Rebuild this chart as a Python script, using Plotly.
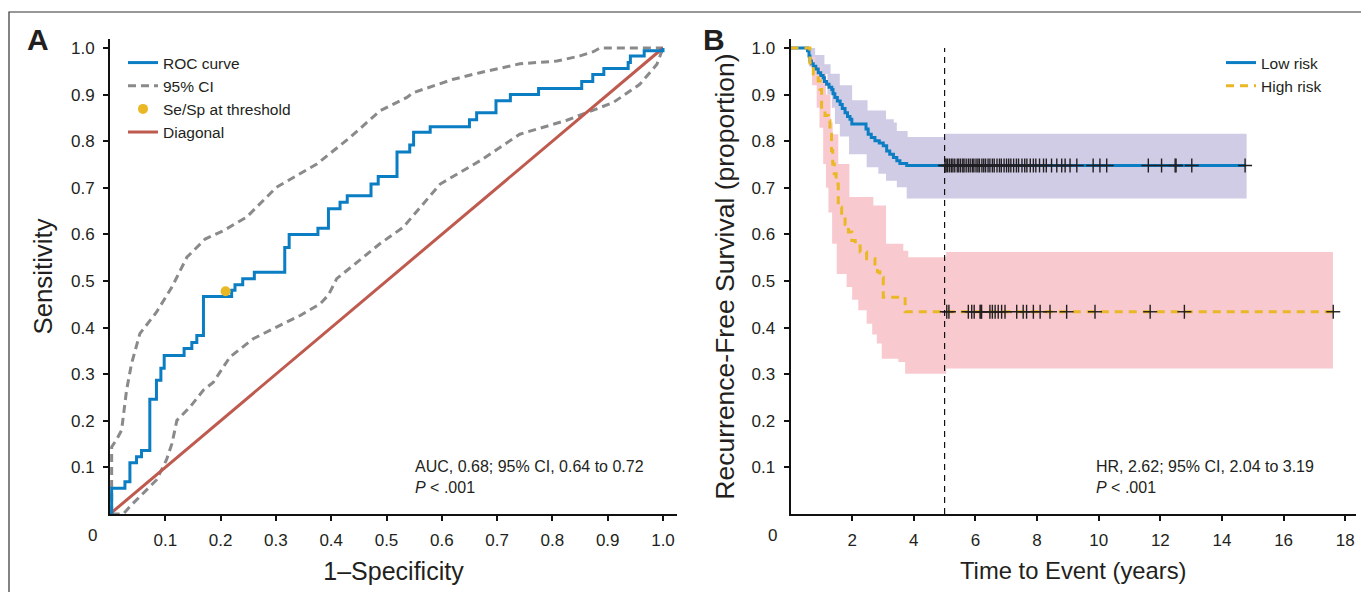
import plotly.graph_objects as go

# ---------------- Panel A data (ROC) ----------------
roc_fpr = [0.003, 0.003, 0.027, 0.036, 0.048, 0.057, 0.072, 0.084, 0.092, 0.098, 0.134, 0.148, 0.157,
           0.169, 0.220, 0.226, 0.240, 0.261, 0.316, 0.324, 0.376, 0.395, 0.416, 0.429, 0.472, 0.485,
           0.519, 0.542, 0.549, 0.579, 0.650, 0.663, 0.698, 0.724, 0.775, 0.853, 0.873, 0.893, 0.937,
           0.941, 0.966, 1.000]
roc_tpr = [0.000, 0.055, 0.069, 0.110, 0.123, 0.136, 0.246, 0.287, 0.313, 0.340, 0.355, 0.368, 0.383,
           0.467, 0.480, 0.492, 0.505, 0.519, 0.572, 0.600, 0.613, 0.655, 0.669, 0.683, 0.708, 0.724,
           0.777, 0.792, 0.819, 0.831, 0.846, 0.861, 0.887, 0.900, 0.913, 0.928, 0.943, 0.956, 0.969,
           0.983, 0.994, 1.000]

ci_upper_fpr = [0.003, 0.003, 0.012, 0.021, 0.030, 0.039, 0.054, 0.084, 0.112, 0.139, 0.172, 0.205,
                0.247, 0.301, 0.374, 0.434, 0.488, 0.537, 0.548, 0.621, 0.669, 0.741, 0.808, 0.850,
                0.874, 0.886, 1.000]
ci_upper_tpr = [0.000, 0.144, 0.160, 0.180, 0.266, 0.323, 0.387, 0.433, 0.487, 0.551, 0.590, 0.608,
                0.637, 0.701, 0.751, 0.808, 0.865, 0.894, 0.904, 0.933, 0.947, 0.966, 0.972, 0.983,
                0.992, 1.000, 1.000]

ci_lower_fpr = [0.003, 0.024, 0.036, 0.066, 0.084, 0.102, 0.112, 0.121, 0.145, 0.169, 0.187, 0.217,
                0.259, 0.301, 0.344, 0.380, 0.395, 0.410, 0.430, 0.458, 0.488, 0.530, 0.597, 0.669,
                0.741, 0.826, 0.910, 0.958, 0.989, 1.000]
ci_lower_tpr = [0.000, 0.000, 0.016, 0.051, 0.073, 0.116, 0.151, 0.201, 0.230, 0.266, 0.283, 0.337,
                0.376, 0.401, 0.426, 0.451, 0.470, 0.505, 0.525, 0.551, 0.580, 0.615, 0.708, 0.758,
                0.815, 0.845, 0.883, 0.922, 0.965, 1.000]

threshold_fpr = [0.209]
threshold_tpr = [0.478]

diag_x = [0.0, 1.0]
diag_y = [0.0, 1.0]

roc_ticks = [0.1, 0.2, 0.3, 0.4, 0.5, 0.6, 0.7, 0.8, 0.9, 1.0]
roc_ticklabels = ["0.1", "0.2", "0.3", "0.4", "0.5", "0.6", "0.7", "0.8", "0.9", "1.0"]

# ---------------- Panel B data (Kaplan-Meier) ----------------
low_t = [0.00, 0.55, 0.60, 0.63, 0.68, 0.74, 0.82, 0.90, 0.98, 1.06, 1.10, 1.17, 1.25, 1.34, 1.38,
         1.44, 1.52, 1.61, 1.68, 1.77, 1.85, 1.93, 1.99, 2.45, 2.52, 2.62, 2.74, 2.88, 3.01, 3.12,
         3.22, 3.34, 3.45, 3.55, 3.77, 14.78]
low_s = [1.000, 0.994, 0.983, 0.972, 0.966, 0.961, 0.955, 0.947, 0.941, 0.936, 0.928, 0.922, 0.916,
         0.911, 0.902, 0.894, 0.886, 0.879, 0.870, 0.861, 0.853, 0.847, 0.837, 0.826, 0.815, 0.808,
         0.801, 0.796, 0.790, 0.779, 0.772, 0.765, 0.758, 0.752, 0.748, 0.748]

high_t = [0.00, 0.63, 0.74, 0.90, 0.96, 1.01, 1.12, 1.23, 1.28, 1.33, 1.37, 1.42, 1.48, 1.55, 1.66,
          1.77, 1.88, 1.99, 2.10, 2.26, 2.47, 2.74, 2.82, 2.90, 3.01, 3.72, 17.61]
high_s = [1.000, 0.968, 0.944, 0.929, 0.911, 0.865, 0.855, 0.844, 0.815, 0.780, 0.751, 0.730, 0.708,
          0.658, 0.640, 0.622, 0.605, 0.587, 0.575, 0.562, 0.548, 0.533, 0.520, 0.508, 0.465, 0.434,
          0.434]

low_ci_up_t = [0.55, 0.80, 1.10, 1.30, 1.60, 2.00, 2.50, 3.10, 3.35, 3.45, 3.80, 5.02, 14.80]
low_ci_up_s = [1.000, 0.985, 0.965, 0.945, 0.920, 0.888, 0.866, 0.847, 0.840, 0.822, 0.809, 0.816, 0.816]
low_ci_lo_t = [0.55, 0.65, 0.80, 1.00, 1.20, 1.34, 1.44, 1.60, 1.90, 2.47, 2.85, 3.10, 3.45, 3.77, 14.80]
low_ci_lo_s = [1.000, 0.980, 0.960, 0.944, 0.900, 0.872, 0.837, 0.810, 0.772, 0.744, 0.730, 0.715,
               0.701, 0.677, 0.679]

high_ci_up_t = [0.55, 0.70, 1.00, 1.15, 1.30, 1.37, 1.55, 1.91, 2.69, 3.10, 3.66, 3.82, 5.05, 17.60]
high_ci_up_s = [1.000, 0.980, 0.958, 0.900, 0.840, 0.815, 0.751, 0.680, 0.662, 0.580, 0.565, 0.551,
                0.562, 0.562]
high_ci_lo_t = [0.55, 0.60, 0.70, 0.85, 0.94, 1.06, 1.15, 1.23, 1.35, 1.50, 1.82, 2.00, 2.20, 2.47,
                2.65, 2.80, 2.96, 3.50, 3.72, 5.05, 17.60]
high_ci_lo_s = [1.000, 0.960, 0.920, 0.872, 0.829, 0.751, 0.700, 0.647, 0.580, 0.515, 0.487, 0.460,
                0.437, 0.408, 0.385, 0.366, 0.333, 0.326, 0.301, 0.312, 0.312]

low_censor_t = [5.01, 5.05, 5.10, 5.16, 5.22, 5.27, 5.33, 5.41, 5.46, 5.52, 5.59, 5.63, 5.70, 5.77,
                5.83, 5.90, 5.95, 6.02, 6.08, 6.13, 6.21, 6.27, 6.33, 6.41, 6.47, 6.55, 6.61, 6.70,
                6.78, 6.84, 6.93, 7.01, 7.08, 7.15, 7.24, 7.33, 7.40, 7.51, 7.60, 7.67, 7.78, 7.88,
                7.96, 8.08, 8.21, 8.30, 8.47, 8.64, 8.80, 8.91, 9.07, 9.29, 9.82, 10.04, 10.26,
                11.61, 12.04, 12.48, 12.51, 13.02, 14.75]
high_censor_t = [5.07, 5.14, 5.77, 5.88, 5.96, 6.15, 6.18, 6.20, 6.47, 6.55, 6.64, 6.74, 6.85, 6.96,
                 7.34, 7.55, 7.66, 7.88, 8.10, 8.42, 8.96, 9.88, 11.67, 12.78, 17.61]
low_plateau = 0.748
high_plateau = 0.434
landmark_year = 5

km_xticks = [2, 4, 6, 8, 10, 12, 14, 16, 18]
km_yticks = [0.1, 0.2, 0.3, 0.4, 0.5, 0.6, 0.7, 0.8, 0.9, 1.0]
km_yticklabels = ["0.1", "0.2", "0.3", "0.4", "0.5", "0.6", "0.7", "0.8", "0.9", "1.0"]

# ---------------- styling ----------------
# The page body has an 8px margin, so the figure is sized to fit inside it and
# positions (measured in window pixels) are converted with that offset.
WIN_W, WIN_H = 1369, 600
PAGE_MARGIN = 8
W, H = WIN_W - 2 * PAGE_MARGIN, WIN_H - 2 * PAGE_MARGIN
FONT = "Liberation Sans, Arial, Helvetica, sans-serif"
TXT = "#231f20"
BLUE = "#0b7dc3"
GRAY = "#8a8a8c"
RED = "#bf5a4f"
GOLD = "#e9b824"
PURPLE = "#d0cce6"
PINK = "#f8cacf"


def px_x(p):
    return (p - PAGE_MARGIN) / W


def px_y(p):
    return 1 - (p - PAGE_MARGIN) / H


fig = go.Figure()

# Panel A
fig.add_trace(go.Scatter(x=ci_upper_fpr, y=ci_upper_tpr, mode="lines", name="95% CI",
                         line=dict(color=GRAY, width=3, dash="8px,5px"), xaxis="x", yaxis="y",
                         legend="legend", legendrank=2))
fig.add_trace(go.Scatter(x=ci_lower_fpr, y=ci_lower_tpr, mode="lines", name="95% CI", showlegend=False,
                         line=dict(color=GRAY, width=3, dash="8px,5px"), xaxis="x", yaxis="y"))
fig.add_trace(go.Scatter(x=diag_x, y=diag_y, mode="lines", name="Diagonal",
                         line=dict(color=RED, width=3), xaxis="x", yaxis="y", legend="legend",
                         legendrank=4))
fig.add_trace(go.Scatter(x=roc_fpr, y=roc_tpr, mode="lines", name="ROC curve",
                         line=dict(color=BLUE, width=3, shape="hv"), xaxis="x", yaxis="y",
                         legend="legend", legendrank=1))
fig.add_trace(go.Scatter(x=threshold_fpr, y=threshold_tpr, mode="markers", name="Se/Sp at threshold",
                         marker=dict(color=GOLD, size=10), xaxis="x", yaxis="y", legend="legend",
                         legendrank=3))

# Panel B bands
fig.add_trace(go.Scatter(x=high_ci_lo_t, y=high_ci_lo_s, mode="lines", line=dict(width=0, shape="hv"),
                         showlegend=False, hoverinfo="skip", xaxis="x2", yaxis="y2"))
fig.add_trace(go.Scatter(x=high_ci_up_t, y=high_ci_up_s, mode="lines", line=dict(width=0, shape="hv"),
                         fill="tonexty", fillcolor=PINK, showlegend=False, hoverinfo="skip",
                         xaxis="x2", yaxis="y2"))
fig.add_trace(go.Scatter(x=low_ci_lo_t, y=low_ci_lo_s, mode="lines", line=dict(width=0, shape="hv"),
                         showlegend=False, hoverinfo="skip", xaxis="x2", yaxis="y2"))
fig.add_trace(go.Scatter(x=low_ci_up_t, y=low_ci_up_s, mode="lines", line=dict(width=0, shape="hv"),
                         fill="tonexty", fillcolor=PURPLE, showlegend=False, hoverinfo="skip",
                         xaxis="x2", yaxis="y2"))

# KM curves
fig.add_trace(go.Scatter(x=low_t, y=low_s, mode="lines", name="Low risk",
                         line=dict(color=BLUE, width=3, shape="hv"), xaxis="x2", yaxis="y2",
                         legend="legend2", legendrank=1))
fig.add_trace(go.Scatter(x=high_t, y=high_s, mode="lines", name="High risk",
                         line=dict(color=GOLD, width=3, shape="hv", dash="8px,6px"), xaxis="x2",
                         yaxis="y2", legend="legend2", legendrank=2))

# censor marks
for times, level in ((low_censor_t, low_plateau), (high_censor_t, high_plateau)):
    for sym in ("line-ns", "line-ew"):
        fig.add_trace(go.Scatter(x=times, y=[level] * len(times), mode="markers",
                                 marker=dict(symbol=sym, size=10, line=dict(color=TXT, width=1.4)),
                                 showlegend=False, hoverinfo="skip", xaxis="x2", yaxis="y2"))

axis_common = dict(showline=True, linecolor="#111111", linewidth=2, ticks="outside", ticklen=5,
                   tickwidth=1.5, tickcolor="#111111", showgrid=False, zeroline=False,
                   tickfont=dict(family=FONT, size=17, color=TXT), ticklabelstandoff=5)


def tfont(size):
    return dict(family=FONT, size=size, color=TXT)


y_top = 39
y_zero = 514
y_one = 48
yr_top = (y_zero - y_top) / (y_zero - y_one)

fig.update_layout(
    width=W, height=H,
    margin=dict(l=0, r=0, t=0, b=0, autoexpand=False),
    paper_bgcolor="white", plot_bgcolor="white",
    font=dict(family=FONT, color=TXT),
    xaxis=dict(**axis_common, domain=[px_x(110), px_x(677)], range=[0, (677 - 110) / 553],
               tickvals=roc_ticks, ticktext=roc_ticklabels, anchor="y",
               title=dict(text="1\u2013Specificity", font=tfont(25), standoff=13)),
    yaxis=dict(**axis_common, domain=[px_y(y_zero), px_y(y_top)], range=[0, yr_top],
               tickvals=roc_ticks, ticktext=roc_ticklabels, anchor="x",
               title=dict(text="Sensitivity", font=tfont(25.8), standoff=11)),
    xaxis2=dict(**axis_common, domain=[px_x(790.5), px_x(1356)], range=[0, (1356 - 790.5) / 30.82],
                tickvals=km_xticks, anchor="y2",
                title=dict(text="Time to Event (years)", font=tfont(23.8), standoff=13)),
    yaxis2=dict(**axis_common, domain=[px_y(y_zero), px_y(y_top)], range=[0, yr_top],
                tickvals=km_yticks, ticktext=km_yticklabels, anchor="x2",
                title=dict(text="Recurrence-Free Survival (proportion)", font=tfont(26.5),
                           standoff=9)),
    legend=dict(x=px_x(123), y=px_y(46), xanchor="left", yanchor="top", bgcolor="rgba(0,0,0,0)",
                font=dict(family=FONT, size=15.5, color=TXT), tracegroupgap=0, itemwidth=30,
                traceorder="normal"),
    legend2=dict(x=px_x(1221), y=px_y(46), xanchor="left", yanchor="top", bgcolor="rgba(0,0,0,0)",
                 font=dict(family=FONT, size=15.5, color=TXT), tracegroupgap=0, itemwidth=30,
                 traceorder="normal"),
    showlegend=True,
)

annotations = [
    dict(text="<b>A</b>", x=px_x(38), y=px_y(39), xref="paper", yref="paper", showarrow=False,
         xanchor="center", yanchor="middle", font=dict(family=FONT, size=30, color=TXT)),
    dict(text="<b>B</b>", x=px_x(714), y=px_y(39), xref="paper", yref="paper", showarrow=False,
         xanchor="center", yanchor="middle", font=dict(family=FONT, size=30, color=TXT)),
    dict(text="0", x=px_x(92), y=px_y(535), xref="paper", yref="paper", showarrow=False,
         xanchor="center", yanchor="middle", font=dict(family=FONT, size=17, color=TXT)),
    dict(text="0", x=px_x(772), y=px_y(535), xref="paper", yref="paper", showarrow=False,
         xanchor="center", yanchor="middle", font=dict(family=FONT, size=17, color=TXT)),
    dict(text="AUC, 0.68; 95% CI, 0.64 to 0.72<br><i>P</i> < .001", x=0.548, y=0.124, xref="x",
         yref="y", xanchor="left", yanchor="top", align="left", showarrow=False,
         font=dict(family=FONT, size=16, color=TXT)),
    dict(text="HR, 2.62; 95% CI, 2.04 to 3.19<br><i>P</i> < .001", x=9.85, y=0.124, xref="x2",
         yref="y2", xanchor="left", yanchor="top", align="left", showarrow=False,
         font=dict(family=FONT, size=16, color=TXT)),
]
fig.update_layout(annotations=annotations)

shapes = [
    dict(type="line", xref="x2", yref="y2", x0=landmark_year, x1=landmark_year, y0=0, y1=1.0,
         line=dict(color="#111111", width=1.2, dash="6px,5px")),
    dict(type="rect", xref="paper", yref="paper", x0=px_x(9), x1=1.02, y0=-0.05, y1=px_y(12),
         line=dict(color="#333333", width=1.2), fillcolor="rgba(0,0,0,0)", layer="below"),
]
fig.update_layout(shapes=shapes)

fig.write_html("out.html")
